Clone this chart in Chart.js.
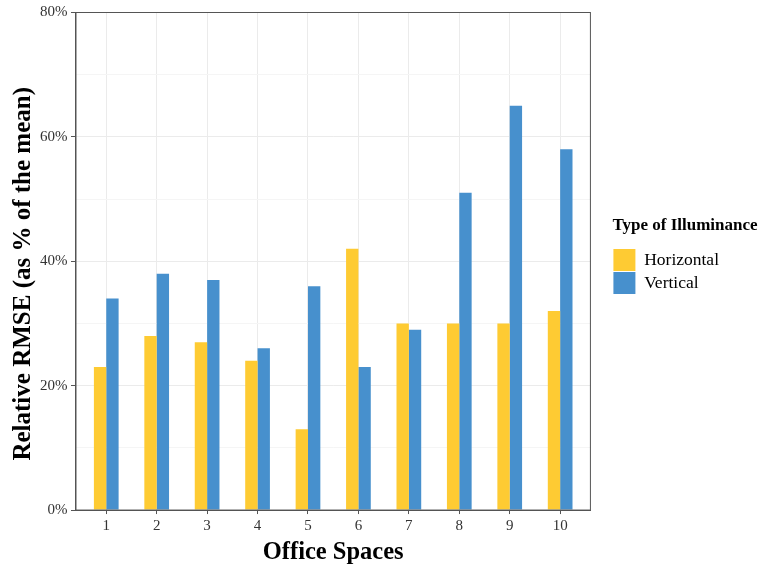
<!DOCTYPE html>
<html>
<head>
<meta charset="utf-8">
<script src="https://cdn.jsdelivr.net/npm/chart.js@4.4.1/dist/chart.umd.min.js"></script>
<style>
  html, body { margin: 0; padding: 0; background: #fff; }
  #wrap { width: 780px; height: 566px; }
</style>
</head>
<body>
<div id="wrap"><canvas id="rmseChart" width="780" height="566"></canvas></div>
<script>
// office spaces on the x axis
const offices = [1, 2, 3, 4, 5, 6, 7, 8, 9, 10];
// relative RMSE in % of the mean
const horizontal = [23, 28, 27, 24, 13, 42, 30, 30, 30, 32];
const vertical = [34, 38, 37, 26, 36, 23, 29, 51, 65, 58];
const yTicks = [0, 20, 40, 60, 80];

const serif = 'Liberation Serif';
const axisGrey = '#555';

// ggplot-like panel border on top and right
const panelBorder = {
    id: 'panelBorder',
    afterDraw(chart) {
        const a = chart.chartArea;
        const c = chart.ctx;
        c.save();
        c.strokeStyle = axisGrey;
        c.lineWidth = 1;
        c.strokeRect(a.left, a.top, a.right - a.left, a.bottom - a.top);
        c.restore();
    }
};

// legend width ignores its title, so let it run to the canvas edge (else the title is clipped)
// and nudge it up a bit, like the original
const legendRoom = {
    id: 'legendRoom',
    afterLayout(chart) {
        const lg = chart.legend;
        lg.right = chart.width;
        lg.width = lg.right - lg.left;
        lg.top -= 5;
        lg.bottom -= 5;
    }
};

const ctx = document.getElementById('rmseChart').getContext('2d');
const rmseChart = new Chart(ctx, {
    type: 'bar',
    data: {
        datasets: [{
            label: 'Horizontal',
            data: offices.map((o, i) => ({x: o, y: horizontal[i]})),
            backgroundColor: '#FECB33'
        }, {
            label: 'Vertical',
            data: offices.map((o, i) => ({x: o, y: vertical[i]})),
            backgroundColor: '#4790CD'
        }]
    },
    options: {
        responsive: false,
        animation: false,
        categoryPercentage: 0.49,
        barPercentage: 1,
        layout: { padding: { top: 4, right: 51, left: 11.5, bottom: 0 } },
        plugins: {
            tooltip: { enabled: false },
            legend: {
                position: 'right',
                align: 'center',
                fullSize: false,
                title: {
                    display: true,
                    text: 'Type of Illuminance',
                    position: 'start',
                    color: '#000',
                    font: { family: serif, size: 17, weight: 'bold' },
                    padding: { top: 0, bottom: 10 }
                },
                labels: {
                    boxWidth: 22,
                    boxHeight: 22,
                    padding: 1,
                    color: '#000',
                    font: { family: serif, size: 17.5 }
                }
            }
        },
        scales: {
            x: {
                type: 'linear',
                min: 0.4,
                max: 10.6,
                offset: false,
                afterBuildTicks: axis => {
                    axis.ticks = offices.map(v => ({value: v}));
                },
                ticks: {
                    color: '#333',
                    padding: 3.5,
                    font: { family: serif, size: 15 },
                    callback: v => String(v)
                },
                grid: { offset: false, color: '#ebebeb', tickColor: axisGrey, tickLength: 4 },
                border: { color: axisGrey, width: 1 },
                title: {
                    display: true,
                    text: 'Office Spaces',
                    color: '#000',
                    font: { family: serif, size: 24.5, weight: 'bold', lineHeight: 1.1 },
                    padding: { top: 0, bottom: 0 }
                }
            },
            y: {
                min: 0,
                max: 80,
                ticks: {
                    stepSize: 10,
                    color: '#333',
                    padding: 3.5,
                    font: { family: serif, size: 15 },
                    callback: v => yTicks.includes(v) ? v + '%' : ''
                },
                grid: {
                    color: c => yTicks.includes(c.tick.value) ? '#ebebeb' : '#f5f5f5',
                    tickColor: c => yTicks.includes(c.tick.value) ? axisGrey : 'rgba(0,0,0,0)',
                    tickLength: 5
                },
                border: { color: axisGrey, width: 1 },
                title: {
                    display: true,
                    // trailing spaces push the centred title a little lower, as in the original
                    text: 'Relative RMSE (as % of the mean)    ',
                    color: '#000',
                    font: { family: serif, size: 25, weight: 'bold', lineHeight: 1 },
                    padding: { top: 0, bottom: 0 }
                }
            },
            // empty right axis: only keeps a gap between the panel and the legend
            gap: {
                position: 'right',
                display: true,
                ticks: { display: false },
                grid: { display: false },
                border: { display: false },
                afterFit: s => { s.width = 22; }
            }
        }
    },
    plugins: [panelBorder, legendRoom]
});
</script>
</body>
</html>
